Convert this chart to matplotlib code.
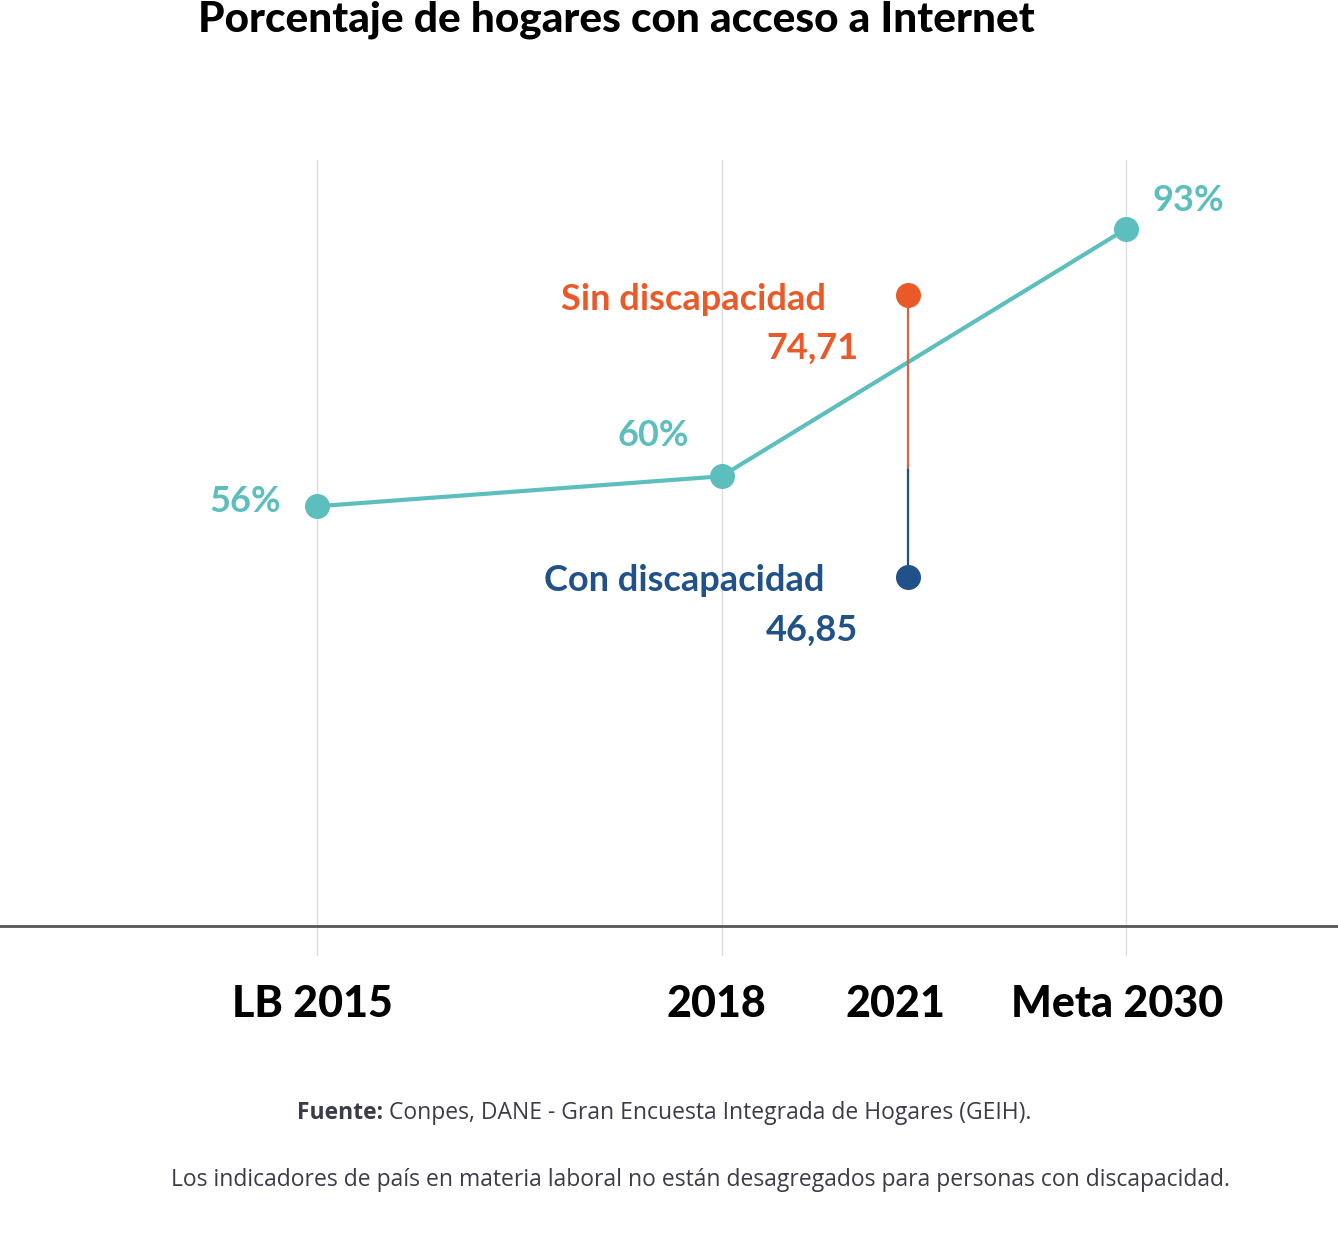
import matplotlib
matplotlib.use("Agg")
import matplotlib.pyplot as plt
from matplotlib.transforms import ScaledTranslation

plt.rcParams['font.family'] = ['Lato', 'DejaVu Sans']

# datos
categorias = ['LB 2015', '2018', 'Meta 2030']
valores = [56, 60, 93]
etiquetas = ['56%', '60%', '93%']

anio_disc = '2021'
sin_disc = 74.71
con_disc = 46.85
etq_sin = '74,71'
etq_con = '46,85'

teal = '#5CBFBE'
naranja = '#EA5A29'
naranja_linea = '#D2644C'
azul = '#215189'

fig = plt.figure(figsize=(13.38, 12.41), dpi=100)
W, H = 1338, 1241
# ejes: de y=160 a y=926 px, ancho completo
ax = fig.add_axes([0, (H - 926) / H, 1, (926 - 160) / H])
xs = list(range(len(categorias)))
x_disc = 1.462

ax.set_xlim(-317 / 404.5, 2 + 212 / 404.5)
ax.set_ylim(0, 102.2)

for x in xs:
    ax.axvline(x, ymin=-0.038, ymax=1, color='#dddddd', lw=1, clip_on=False, zorder=0)

ax.plot(xs, valores, color=teal, lw=3, marker='o', ms=17, zorder=3)

off = [(-72, 5), (-68, 41), (62, 28)]
for x, v, t, o in zip(xs, valores, etiquetas, off):
    ax.annotate(t, (x, v), xytext=o, textcoords='offset pixels', ha='center', va='center',
                color=teal, fontsize=26, fontweight='bold')

# eje secundario para la barra de discapacidad
ax2 = ax.twinx()
ax2.set_ylim(12.4, 88.05)
split = con_disc + 0.38 * (sin_disc - con_disc)
ax2.plot([x_disc, x_disc], [split, sin_disc], color=naranja_linea, lw=1.6, zorder=2)
ax2.plot([x_disc, x_disc], [con_disc, split], color=azul, lw=1.6, zorder=2)
ax2.plot([x_disc], [sin_disc], 'o', color=naranja, ms=17, zorder=4)
ax2.plot([x_disc], [con_disc], 'o', color=azul, ms=17, zorder=4)

ax2.annotate('Sin discapacidad', (x_disc, sin_disc), xytext=(-215, -4), textcoords='offset pixels',
             ha='center', va='center', color=naranja, fontsize=26, fontweight='bold')
ax2.annotate(etq_sin, (x_disc, sin_disc), xytext=(-96, -53), textcoords='offset pixels',
             ha='center', va='center', color=naranja, fontsize=26, fontweight='bold')
ax2.annotate('Con discapacidad', (x_disc, con_disc), xytext=(-224, -3), textcoords='offset pixels',
             ha='center', va='center', color=azul, fontsize=26, fontweight='bold')
ax2.annotate(etq_con, (x_disc, con_disc), xytext=(-96, -53), textcoords='offset pixels',
             ha='center', va='center', color=azul, fontsize=26, fontweight='bold')

for a in (ax, ax2):
    for s in ['top', 'left', 'right']:
        a.spines[s].set_visible(False)
    a.set_yticks([])
ax2.spines['bottom'].set_visible(False)
ax.spines['bottom'].set_color('#555555')
ax.spines['bottom'].set_linewidth(2)

ax.set_xticks(xs + [x_disc])
ax.set_xticklabels(categorias + [anio_disc])
ax.tick_params(axis='x', length=0, pad=42)
desp = [-5, -5, -9, -13]
for lbl, d in zip(ax.get_xticklabels(), desp):
    lbl.set_fontsize(31)
    lbl.set_fontweight('black')
    lbl.set_transform(lbl.get_transform() + ScaledTranslation(d / 100, 0, fig.dpi_scale_trans))

fig.text(616 / W, 1 - 20 / H, 'Porcentaje de hogares con acceso a Internet', ha='center', va='center',
         fontsize=30.5, fontweight='black')

pie = dict(fontsize=16.5, color='#3b3b4a', family=['Open Sans', 'DejaVu Sans'], va='center')
fig.text(383 / W, 1 - 1113 / H, 'Fuente:', ha='right', fontweight='bold', **pie)
fig.text(389 / W, 1 - 1113 / H, 'Conpes, DANE - Gran Encuesta Integrada de Hogares (GEIH).',
         ha='left', **pie)
fig.text(700 / W, 1 - 1180 / H,
         'Los indicadores de país en materia laboral no están desagregados para personas con discapacidad.',
         ha='center', **pie)

fig.savefig('out.png', dpi=100)
